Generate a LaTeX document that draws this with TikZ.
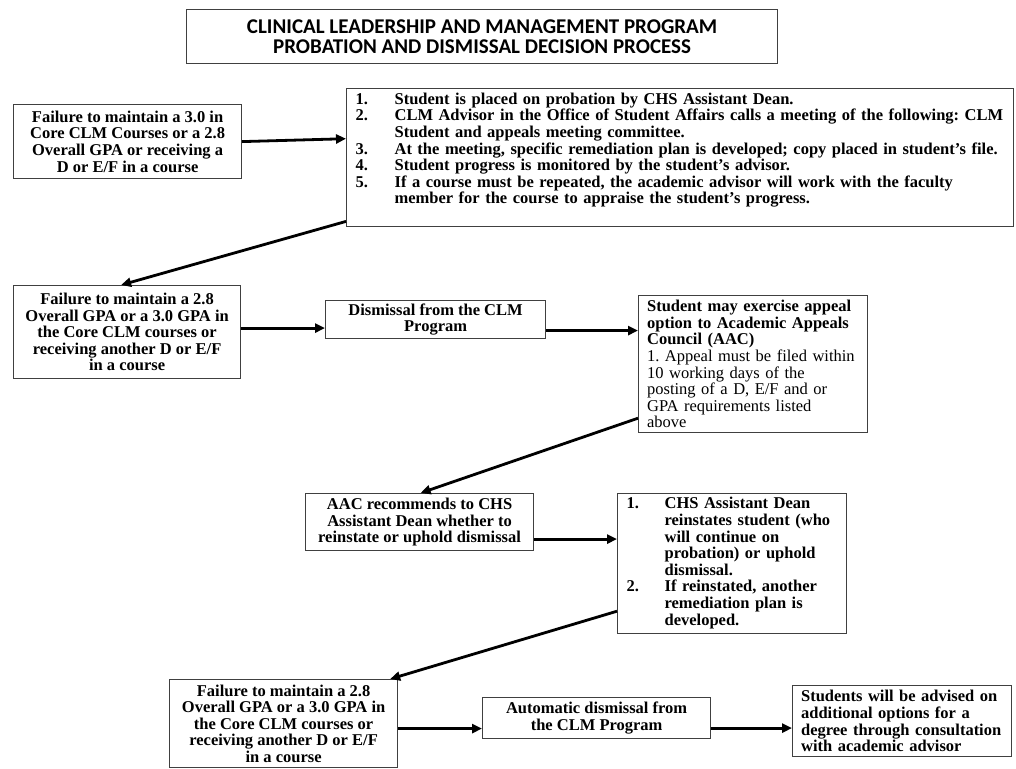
\documentclass[tikz,border=0pt]{standalone}
\usepackage{fontspec}
\setmainfont{Liberation Serif}
\newfontfamily\headfont{Carlito}
\usetikzlibrary{arrows.meta}
\frenchspacing

\tikzset{
  box/.style={draw=black!75, line width=1.2pt, anchor=north west, inner sep=2pt, align=center,
    font=\bfseries\fontsize{16.5}{16.6}\selectfont},
  listbox/.style={box, align=left, inner xsep=9pt, inner ysep=3pt},
  flow/.style={line width=2.8pt, -{Triangle[length=10pt,width=9pt]}},
}

\begin{document}
\begin{tikzpicture}[x=1pt,y=-1pt]
  \useasboundingbox (0,0) rectangle (1016,768);

  % title
  \node[box, font=\headfont\bfseries\fontsize{21}{20.5}\selectfont, minimum width=591pt, minimum height=54pt]
    (title) at (186,9) {CLINICAL LEADERSHIP AND MANAGEMENT PROGRAM\\PROBATION AND DISMISSAL DECISION PROCESS};

  % first failure and probation
  \node[box, minimum width=228pt, minimum height=74pt] (fail1) at (13,104)
    {Failure to maintain a 3.0 in\\Core CLM Courses or a 2.8\\Overall GPA or receiving a\\D or E/F in a course};
  \node[listbox, text width=649pt, inner ysep=4pt] (probation) at (346,88)
    {\begin{tabular}{@{}p{39pt}@{}l@{}}
      1. & Student is placed on probation by CHS Assistant Dean.\\
      2. & CLM Advisor in the Office of Student Affairs calls a meeting of the following: CLM\\
         & Student and appeals meeting committee.\\
      3. & At the meeting, specific remediation plan is developed; copy placed in student's file.\\
      4. & Student progress is monitored by the student's advisor.\\
      5. & If a course must be repeated, the academic advisor will work with the faculty\\
         & member for the course to appraise the student's progress.\\[14pt]
    \end{tabular}};

  % second failure
  \node[box, minimum width=227pt, minimum height=93pt] (fail2) at (13,285)
    {Failure to maintain a 2.8\\Overall GPA or a 3.0 GPA in\\the Core CLM courses or\\receiving another D or E/F\\in a course};
  \node[box, minimum width=220pt, minimum height=38pt] (dismiss) at (325,300)
    {Dismissal from the CLM\\Program};
  \node[listbox, text width=212pt, inner xsep=8.5pt, minimum height=137pt] (appeal) at (638,295)
    {Student may exercise appeal\\option to Academic Appeals\\Council (AAC)\\
     \normalfont\fontsize{16.5}{16.6}\selectfont 1. Appeal must be filed within\\10 working days of the\\posting of a D, E/F and or\\GPA requirements listed\\above};

  % appeal decision
  \node[box, minimum width=228pt, minimum height=57pt] (recommend) at (305,493)
    {AAC recommends to CHS\\Assistant Dean whether to\\reinstate or uphold dismissal};
  \node[listbox, text width=211pt, minimum height=140pt] (reinstate) at (617,493)
    {\begin{tabular}{@{}p{38pt}@{}l@{}}
      1. & CHS Assistant Dean\\
         & reinstates student (who\\
         & will continue on\\
         & probation) or uphold\\
         & dismissal.\\
      2. & If reinstated, another\\
         & remediation plan is\\
         & developed.
    \end{tabular}};

  % third failure
  \node[box, minimum width=228pt, minimum height=88pt, inner ysep=1pt] (fail3) at (169,679)
    {Failure to maintain a 2.8\\Overall GPA or a 3.0 GPA in\\the Core CLM courses or\\receiving another D or E/F\\in a course};
  \node[box, minimum width=228pt, minimum height=41pt] (auto) at (482,697)
    {Automatic dismissal from\\the CLM Program};
  \node[listbox, text width=202pt, inner xsep=8.5pt, minimum height=71pt] (advise) at (792,685)
    {Students will be advised on\\additional options for a\\degree through consultation\\with academic advisor};

  % arrows
  \draw[flow] (fail1.east) -- ([yshift=19pt]probation.west);
  \draw[flow] ([yshift=6pt]probation.south west) -- ([xshift=-6pt]fail2.north);
  \draw[flow] ([yshift=4pt]fail2.east) -- ([yshift=4pt]fail2.east -| dismiss.west);
  \draw[flow] ([yshift=-11pt]dismiss.east) -- ([yshift=-11pt]dismiss.east -| appeal.west);
  \draw[flow] ([yshift=15pt]appeal.south west) -- ([xshift=1pt]recommend.north);
  \draw[flow] ([yshift=-17pt]recommend.east) -- ([yshift=-17pt]recommend.east -| reinstate.west);
  \draw[flow] ([yshift=23pt]reinstate.south west) -- ([xshift=-8pt]fail3.north east);
  \draw[flow] ([yshift=-5pt]fail3.east) -- ([yshift=-5pt]fail3.east -| auto.west);
  \draw[flow] ([yshift=-10pt]auto.east) -- ([yshift=-10pt]auto.east -| advise.west);
\end{tikzpicture}
\end{document}
